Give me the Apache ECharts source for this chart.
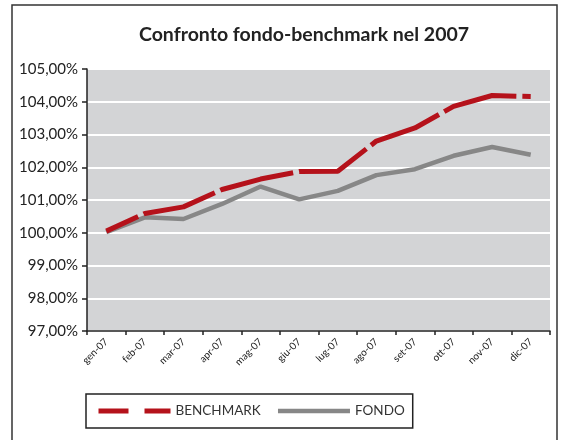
<!DOCTYPE html>
<html>
<head>
<meta charset="utf-8">
<script src="https://cdn.jsdelivr.net/npm/echarts@6/dist/echarts.min.js"></script>
<style>
  html, body { margin: 0; padding: 0; background: #fff; }
  #chart { width: 569px; height: 440px; }
</style>
</head>
<body>
<div id="chart"></div>
<script>
// mesi del 2007
var mesi = ['gen-07', 'feb-07', 'mar-07', 'apr-07', 'mag-07', 'giu-07',
  'lug-07', 'ago-07', 'set-07', 'ott-07', 'nov-07', 'dic-07'];
// valori (%)
var benchmark = [100.05, 100.59, 100.79, 101.32, 101.64, 101.87, 101.88, 102.8, 103.2, 103.86, 104.19, 104.16];
var fondo = [100.02, 100.47, 100.42, 100.88, 101.41, 101.02, 101.28, 101.76, 101.94, 102.35, 102.62, 102.38];

var font = 'Lato';
var chart = echarts.init(document.getElementById('chart'));

var option = {
  animation: false,
  textStyle: { fontFamily: font },
  title: {
    text: 'Confronto fondo-benchmark nel 2007',
    left: 299,
    top: 20,
    textAlign: 'center',
    textStyle: { fontFamily: font, fontSize: 19.5, fontWeight: 'bold', color: '#222' }
  },
  graphic: [{
    // cornice esterna
    type: 'rect',
    shape: { x: 12, y: 5, width: 545, height: 445 },
    style: { fill: 'none', stroke: '#333', lineWidth: 1.5 },
    z: -1
  }],
  grid: {
    left: 87, right: 19, top: 69, bottom: 109,
    show: true, backgroundColor: '#D3D4D6', borderWidth: 0
  },
  xAxis: {
    type: 'category',
    data: mesi,
    boundaryGap: true,
    axisLine: { lineStyle: { color: '#222', width: 1.5 } },
    axisTick: { show: true, length: 4, lineStyle: { color: '#222', width: 1.5 } },
    axisLabel: { rotate: 45, fontSize: 10, color: '#222', margin: 9, fontFamily: font }
  },
  yAxis: {
    type: 'value',
    min: 97, max: 105, interval: 1,
    axisLine: { show: true, lineStyle: { color: '#222', width: 1.5 } },
    axisTick: { show: true, length: 5, lineStyle: { color: '#222', width: 1.5 } },
    splitLine: { lineStyle: { color: '#fff', width: 2 } },
    axisLabel: {
      fontSize: 15, color: '#222', margin: 9, fontFamily: font,
      formatter: function (v) { return v.toFixed(2).replace('.', ',') + '%'; }
    }
  },
  legend: {
    left: 86, top: 394,
    padding: [10, 8, 10, 10],
    borderColor: '#222', borderWidth: 1.5,
    itemWidth: 72, itemHeight: 14, itemGap: 15,
    itemStyle: { opacity: 0 },
    textStyle: { fontFamily: font, fontSize: 13.5, color: '#333' },
    data: [
      { name: 'BENCHMARK', lineStyle: { type: [30, 16], width: 5, dashOffset: 0 }, itemStyle: { opacity: 0 } },
      { name: 'FONDO', lineStyle: { width: 4.5 }, itemStyle: { opacity: 0 } }
    ]
  },
  series: [
    {
      name: 'BENCHMARK',
      type: 'line',
      data: benchmark,
      symbol: 'none',
      lineStyle: { color: '#B5121B', width: 5, type: [75, 6], dashOffset: 40 },
      itemStyle: { color: '#B5121B' },
      z: 3
    },
    {
      name: 'FONDO',
      type: 'line',
      data: fondo,
      symbol: 'none',
      lineStyle: { color: '#878787', width: 4.5 },
      itemStyle: { color: '#878787' },
      z: 2
    }
  ]
};

chart.setOption(option);
</script>
</body>
</html>
